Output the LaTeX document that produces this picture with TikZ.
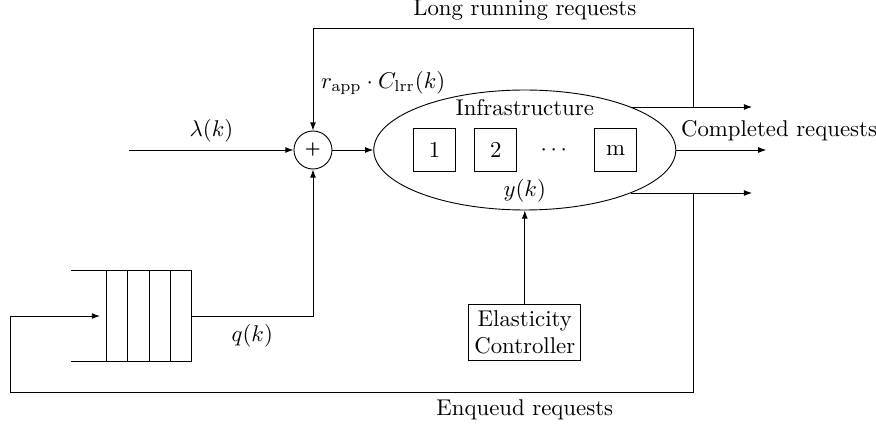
\documentclass[tikz,border=0pt]{standalone}
\usepackage{amsmath}
\usepackage{tikz}
\usetikzlibrary{positioning,calc,arrows.meta,shapes.geometric}

\begin{document}
\begin{tikzpicture}
        [
    basic/.style={draw, text centered},
    circ/.style={basic, circle, minimum size=0.586cm, inner sep=0pt},
    unit/.style={basic, rectangle, minimum size=0.65cm, inner sep=0pt},
    cell/.style={draw, rectangle, minimum width=0.328cm, minimum height=1.403cm, inner sep=0pt, outer sep=0pt},
    >={Latex[length=3.6pt, width=2.6pt]}
    ]
    \useasboundingbox (-4.826,2.313) rectangle (8.681,-4.240);

    % Sumador e infraestructura
    \node [circ, font=\scriptsize\bfseries] (sum) at (0,0) {+};
    \node [basic, ellipse, minimum width=4.657cm, minimum height=1.85cm, right=0.63cm of sum] (infra) {};
    \node [below=0.03cm of infra.north] (infratext) {Infrastructure};
    \node [above=0pt of infra.south] (yk) {$y(k)$};
    \draw [->] (sum) -- (infra);
    % Maquinas
    \node [unit] (u1) at ($(infra.center)+(-1.39,0)$) {1};
    \node [unit, right=0.28cm of u1] (u2) {2};
    \node [unit] (um) at ($(infra.center)+(1.40,0)$) {m};
    \node (dots) at ($(u2)!0.5!(um)$) {$\cdots$};
    % Controlador
    \node [basic, align=center, inner sep=2.5pt, below=1.45cm of infra] (ctrl) {Elasticity\\Controller};
    \draw [->] (ctrl) -- (infra);
    % Entrada
    \coordinate [left=2.53cm of sum] (lin);
    \draw [->] (lin) -- node[above] (lam) {$\lambda(k)$} (sum);
    % Salidas
    \coordinate [right=1.39cm of infra.east] (oc);
    \coordinate [right=1.17cm of infra.east] (oe);
    \coordinate [right=0.26cm of infra.east] (jx);
    \draw [->] (infra.east) -- (oc);
    \draw [->] (infra.22) -- (infra.22 -| oe);
    \draw [->] (infra.-22) -- (infra.-22 -| oe);
    \node [above right=0.02cm and -0.05cm of infra.east] (done) {Completed requests};
    % Realimentacion de peticiones largas
    \coordinate [above=1.57cm of sum] (ctop);
    \draw [->] (infra.22 -| jx) |- (ctop) -- (sum);
    \node [above] (lrr) at (infra |- ctop) {Long running requests};
    \node [right] (gain) at ($(sum)+(0,1.03)$) {$r_{\mathrm{app}} \cdot C_{\mathrm{lrr}}(k)$};
    % Cola
    \coordinate (qin) at (-3.284,-2.560);
    \node [cell, right=0.1cm of qin] (c1) {};
    \node [cell, right=0pt of c1] (c2) {};
    \node [cell, right=0pt of c2] (c3) {};
    \node [cell, right=0pt of c3] (c4) {};
    \draw (c1.north west) -- ++(-0.55,0);
    \draw (c1.south west) -- ++(-0.55,0);
    \draw [->] (c4.east) -| node[below, pos=0.25] (qk) {$q(k)$} (sum);
    % Peticiones encoladas
    \coordinate (ebl) at (-4.672,-3.731);
    \draw [->] (infra.-22 -| jx) |- (ebl) |- (qin);
    \node [below] (enq) at (ctrl |- ebl) {Enqueud requests};
\end{tikzpicture}
\end{document}
